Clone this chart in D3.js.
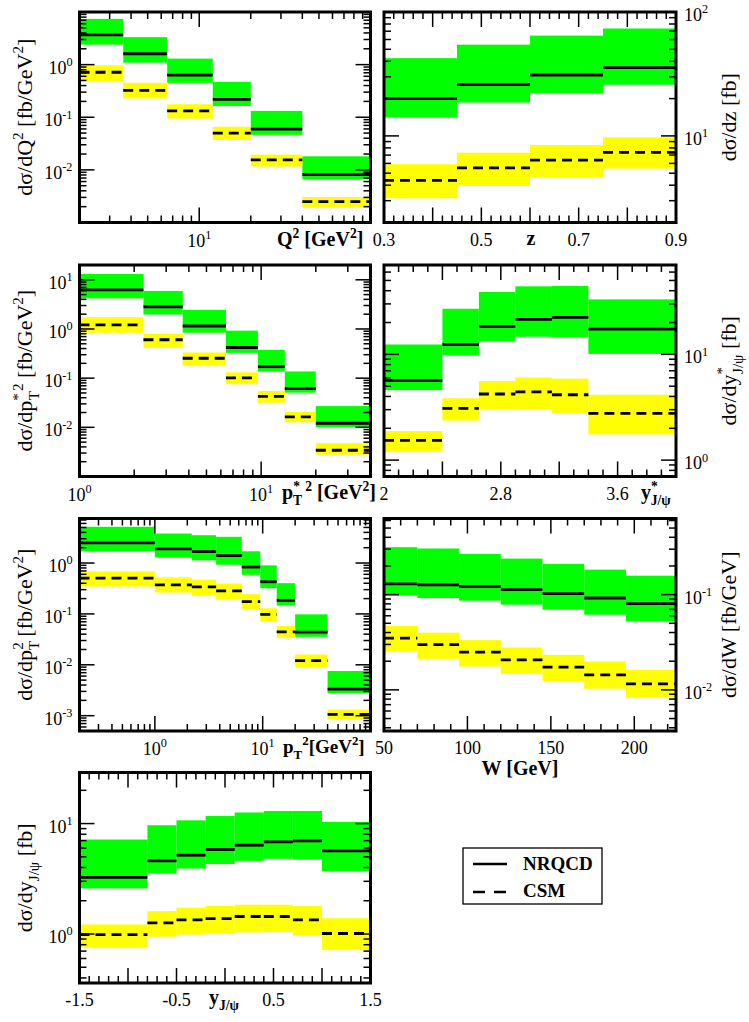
<!DOCTYPE html>
<html>
<head>
<meta charset="utf-8">
<script src="https://cdn.jsdelivr.net/npm/d3@7"></script>
<style>
  body { margin: 0; background: #fff; }
  svg { display: block; }
  text { font-family: "Liberation Serif", "Times New Roman", serif; fill: #000; }
</style>
</head>
<body>
<div id="chart"></div>
<script>
// ---- data (bin edges, NRQCD band / central, CSM band / central) ----

// dsigma/dQ2
const q2Edges = [2, 3.6, 6.5, 12, 20, 40, 100];
const q2NrqcdHi = [7.4, 3.33, 1.30, 0.471, 0.132, 0.0181];
const q2NrqcdLo = [2.4, 1.09, 0.451, 0.164, 0.0464, 0.0066];
const q2Nrqcd = [3.68, 1.61, 0.629, 0.219, 0.0594, 0.00817];
const q2CsmHi = [0.97, 0.451, 0.176, 0.066, 0.0195, 0.00305];
const q2CsmLo = [0.485, 0.228, 0.0944, 0.037, 0.01156, 0.00192];
const q2Csm = [0.717, 0.323, 0.132, 0.050, 0.01545, 0.00249];
const q2XExp = [1];
const q2YExp = [0, -1, -2];

// dsigma/dz
const zEdges = [0.3, 0.45, 0.6, 0.75, 0.9];
const zNrqcdHi = [42.4, 54.5, 64.5, 73.6];
const zNrqcdLo = [14.1, 18.6, 22.1, 25.9];
const zNrqcd = [20.0, 26.0, 31.0, 35.6];
const zCsmHi = [5.91, 7.31, 8.45, 9.75];
const zCsmLo = [3.14, 3.94, 4.66, 5.45];
const zCsm = [4.38, 5.52, 6.37, 7.36];
const zXLabels = ["0.3", "0.5", "0.7", "0.9"];
const zYExp = [1, 2];

// dsigma/dpT*2
const psEdges = [1, 2.25, 3.7, 6.4, 9.6, 13.5, 20, 40];
const psNrqcdHi = [13.1, 5.94, 2.45, 0.925, 0.376, 0.137, 0.027];
const psNrqcdLo = [4.2, 1.97, 0.84, 0.327, 0.135, 0.0507, 0.01];
const psNrqcd = [6.23, 2.83, 1.15, 0.42, 0.171, 0.0613, 0.0121];
const psCsmHi = [1.74, 0.80, 0.332, 0.131, 0.055, 0.0207, 0.00476];
const psCsmLo = [0.84, 0.413, 0.179, 0.0753, 0.0316, 0.0127, 0.00279];
const psCsm = [1.21, 0.604, 0.254, 0.1016, 0.0426, 0.0163, 0.00342];
const psXExp = [0, 1];
const psYExp = [1, 0, -1, -2];

// dsigma/dy*
const ysEdges = [2, 2.4, 2.65, 2.9, 3.15, 3.4, 4];
const ysNrqcdHi = [12.4, 27.0, 38.9, 44.0, 44.4, 33.1];
const ysNrqcdLo = [4.59, 9.8, 13.3, 14.7, 14.5, 10.1];
const ysNrqcd = [5.68, 12.4, 18.4, 21.4, 22.4, 17.3];
const ysCsmHi = [1.88, 3.84, 5.6, 6.05, 5.89, 4.15];
const ysCsmLo = [1.2, 2.37, 2.99, 3.04, 2.8, 1.75];
const ysCsm = [1.535, 3.08, 4.22, 4.41, 4.15, 2.77];
const ysXLabels = ["2", "2.8", "3.6"];
const ysYExp = [1, 0];

// dsigma/dpT2
const ptEdges = [0.2, 1, 2.2, 3.7, 6.4, 9.5, 13.5, 20, 40, 100];
const ptNrqcdHi = [5.15, 3.8, 3.52, 3.27, 1.70, 0.90, 0.402, 0.098, 0.00754];
const ptNrqcdLo = [1.70, 1.29, 1.13, 0.927, 0.588, 0.32, 0.146, 0.0355, 0.00277];
const ptNrqcd = [2.49, 1.89, 1.68, 1.40, 0.834, 0.428, 0.185, 0.0438, 0.00332];
const ptCsmHi = [0.684, 0.521, 0.468, 0.396, 0.244, 0.129, 0.0577, 0.0159, 0.00132];
const ptCsmLo = [0.346, 0.263, 0.23, 0.194, 0.125, 0.0702, 0.0339, 0.00904, 0.000835];
const ptCsm = [0.505, 0.373, 0.34, 0.284, 0.175, 0.098, 0.0445, 0.0121, 0.00106];
const ptXExp = [0, 1];
const ptYExp = [0, -1, -2, -3];

// dsigma/dW
const wEdges = [50, 70, 95, 120, 145, 170, 195, 225];
const wNrqcdHi = [0.315, 0.305, 0.268, 0.239, 0.21, 0.183, 0.158];
const wNrqcdLo = [0.0976, 0.092, 0.0864, 0.0785, 0.0695, 0.0616, 0.0524];
const wNrqcd = [0.13, 0.127, 0.122, 0.113, 0.1025, 0.0922, 0.0804];
const wCsmHi = [0.0468, 0.0398, 0.0333, 0.0279, 0.0233, 0.0199, 0.01626];
const wCsmLo = [0.0253, 0.0212, 0.0176, 0.0147, 0.0122, 0.0103, 0.0083];
const wCsm = [0.035, 0.0298, 0.0249, 0.0207, 0.0173, 0.0144, 0.01156];
const wXLabels = ["50", "100", "150", "200"];
const wYExp = [-1, -2];

// dsigma/dy
const yEdges = [-1.5, -0.8, -0.5, -0.2, 0.1, 0.4, 0.7, 1.0, 1.5];
const yNrqcdHi = [7.17, 9.66, 10.7, 11.7, 12.6, 13.0, 13.0, 10.35];
const yNrqcdLo = [2.59, 3.53, 3.92, 4.3, 4.6, 4.8, 4.73, 3.71];
const yNrqcd = [3.25, 4.6, 5.17, 5.82, 6.37, 6.83, 6.97, 5.66];
const yCsmHi = [1.22, 1.61, 1.73, 1.8, 1.84, 1.84, 1.79, 1.39];
const yCsmLo = [0.753, 0.946, 0.99, 1.01, 1.035, 1.04, 0.966, 0.716];
const yCsm = [0.986, 1.26, 1.34, 1.38, 1.44, 1.44, 1.34, 1.01];
const yXLabels = ["-1.5", "-0.5", "0.5", "1.5"];
const yYExp = [1, 0];

const legendNames = ["NRQCD", "CSM"];

// ---- layout ----
const width = 749, height = 1022;
const colL = [79.5, 370.5], colR = [384, 676];
const rows = [[12, 222.5], [265, 476.5], [518.5, 731], [772.5, 983]];
const green = "#00ff00", yellow = "#ffff00";
const tickFont = 18, titleFont = 22, xTitleFont = 20;

const svg = d3.select("#chart")
  .append("svg")
    .attr("width", width)
    .attr("height", height);

// write text with super/subscripts: segs are strings or {t, s:"sup"|"sub", dx}
function rich(text, segs, size) {
  let cur = 0;
  segs.forEach(s => {
    const seg = typeof s === "string" ? { t: s } : s;
    const shift = seg.s === "sup" ? -0.42 * size : seg.s === "sub" ? 0.3 * size : 0;
    const ts = text.append("tspan")
      .attr("dy", shift - cur)
      .attr("font-size", seg.s ? size * 0.68 : size)
      .text(seg.t);
    if (seg.dx) ts.attr("dx", seg.dx);
    cur = shift;
  });
}

const isPow10 = v => Math.abs(Math.log10(v) - Math.round(Math.log10(v))) < 1e-6;

function drawPanel(p) {
  const g = svg.append("g");
  const [x0, x1] = p.col;
  const [y0, y1] = p.row;
  const x = (p.xLog ? d3.scaleLog() : d3.scaleLinear()).domain(p.xDomain).range([x0, x1]);
  const y = d3.scaleLog().domain(p.yDomain).range([y1, y0]);
  const bins = d3.range(p.edges.length - 1);

  // bands
  const band = (hi, lo, col) => g.append("g").selectAll("rect")
    .data(bins)
    .join("rect")
      .attr("x", i => x(p.edges[i]))
      .attr("width", i => x(p.edges[i + 1]) - x(p.edges[i]))
      .attr("y", i => y(hi[i]))
      .attr("height", i => y(lo[i]) - y(hi[i]))
      .attr("fill", col);
  band(p.nHi, p.nLo, green);
  band(p.cHi, p.cLo, yellow);

  // central lines
  const steps = (vals, dash) => g.append("g").selectAll("line")
    .data(bins)
    .join("line")
      .attr("x1", i => x(p.edges[i]))
      .attr("x2", i => x(p.edges[i + 1]))
      .attr("y1", i => y(vals[i]))
      .attr("y2", i => y(vals[i]))
      .attr("stroke", "#000")
      .attr("stroke-width", 2.8)
      .attr("stroke-dasharray", dash);
  steps(p.n, null);
  steps(p.c, "10,6");

  // ticks
  let xMajor, xMinor;
  if (p.xLog) {
    const all = x.ticks();
    xMajor = all.filter(isPow10);
    xMinor = all.filter(v => !isPow10(v));
  } else {
    const onStep = v => Math.abs(v / p.xStep - Math.round(v / p.xStep)) < 1e-6;
    const all = d3.range(p.xDomain[0], p.xDomain[1] + 1e-9, p.xMinorStep)
      .map(v => Math.round(v * 1e6) / 1e6);
    xMajor = all.filter(onStep);
    xMinor = all.filter(v => !onStep(v));
  }
  const yAll = y.ticks();
  const yMajor = yAll.filter(isPow10), yMinor = yAll.filter(v => !isPow10(v));

  const tk = g.append("g").attr("stroke", "#000").attr("stroke-width", 1.5);
  const xTicks = (vals, len) => {
    tk.append("g").selectAll("line").data(vals).join("line")
      .attr("x1", d => x(d)).attr("x2", d => x(d)).attr("y1", y1).attr("y2", y1 - len);
    tk.append("g").selectAll("line").data(vals).join("line")
      .attr("x1", d => x(d)).attr("x2", d => x(d)).attr("y1", y0).attr("y2", y0 + len);
  };
  const yTicks = (vals, len) => {
    tk.append("g").selectAll("line").data(vals).join("line")
      .attr("y1", d => y(d)).attr("y2", d => y(d)).attr("x1", x0).attr("x2", x0 + len);
    tk.append("g").selectAll("line").data(vals).join("line")
      .attr("y1", d => y(d)).attr("y2", d => y(d)).attr("x1", x1).attr("x2", x1 - len);
  };
  xTicks(xMajor, 15); xTicks(xMinor, 7);
  yTicks(yMajor, 15); yTicks(yMinor, 7);

  // frame
  g.append("rect")
    .attr("x", x0).attr("y", y0)
    .attr("width", x1 - x0).attr("height", y1 - y0)
    .attr("fill", "none").attr("stroke", "#000").attr("stroke-width", 3);

  // x tick labels
  if (p.xLog) {
    p.xExp.forEach(e => {
      const t = g.append("text").attr("x", x(Math.pow(10, e))).attr("y", y1 + 24)
        .attr("text-anchor", "middle");
      rich(t, ["10", { t: String(e), s: "sup" }], tickFont);
    });
  } else {
    p.xLabels.forEach(s => {
      g.append("text").attr("x", x(+s)).attr("y", y1 + 23)
        .attr("text-anchor", "middle").attr("font-size", tickFont).text(s);
    });
  }

  // y tick labels
  p.yExp.forEach(e => {
    const t = g.append("text").attr("y", y(Math.pow(10, e)) + 9);
    if (p.ySide === "left") t.attr("x", x0 - 7).attr("text-anchor", "end");
    else t.attr("x", x1 + 8).attr("text-anchor", "start");
    rich(t, ["10", { t: String(e), s: "sup" }], tickFont);
  });

  // y title
  const ty = g.append("text")
    .attr("transform", `translate(${p.ySide === "left" ? 32 : 736},${(y0 + y1) / 2}) rotate(-90)`)
    .attr("text-anchor", "middle");
  rich(ty, p.yTitle, titleFont);

  // x title
  const tx = g.append("text")
    .attr("x", p.xTitlePos[0]).attr("y", p.xTitlePos[1])
    .attr("font-weight", "bold")
    .attr("text-anchor", p.xTitleAnchor || "start");
  rich(tx, p.xTitle, p.xTitleSize || xTitleFont);
}

const sup = t => ({ t, s: "sup" });
const sub = (t, dx) => ({ t, s: "sub", dx });

const panels = [
  { col: colL, row: rows[0], xLog: true, xDomain: [2, 100], yDomain: [1e-3, 10], ySide: "left",
    edges: q2Edges, nHi: q2NrqcdHi, nLo: q2NrqcdLo, n: q2Nrqcd, cHi: q2CsmHi, cLo: q2CsmLo, c: q2Csm,
    xExp: q2XExp, yExp: q2YExp,
    yTitle: ["dσ/dQ", sup("2"), " [fb/GeV", sup("2"), "]"],
    xTitle: ["Q", sup("2"), " [GeV", sup("2"), "]"], xTitlePos: [277, 246] },
  { col: colR, row: rows[0], xLog: false, xDomain: [0.3, 0.9], xStep: 0.1, xMinorStep: 0.02,
    yDomain: [2, 100], ySide: "right",
    edges: zEdges, nHi: zNrqcdHi, nLo: zNrqcdLo, n: zNrqcd, cHi: zCsmHi, cLo: zCsmLo, c: zCsm,
    xLabels: zXLabels, yExp: zYExp,
    yTitle: ["dσ/dz [fb]"],
    xTitle: ["z"], xTitlePos: [531, 245], xTitleAnchor: "middle" },
  { col: colL, row: rows[1], xLog: true, xDomain: [1, 40], yDomain: [1e-3, 20], ySide: "left",
    edges: psEdges, nHi: psNrqcdHi, nLo: psNrqcdLo, n: psNrqcd, cHi: psCsmHi, cLo: psCsmLo, c: psCsm,
    xExp: psXExp, yExp: psYExp,
    yTitle: ["dσ/dp", sup("*"), sub("T", -7), sup("2"), " [fb/GeV", sup("2"), "]"],
    xTitle: ["p", sup("*"), sub("T", -7), sup(" 2"), " [GeV", sup("2"), "]"], xTitlePos: [282, 499] },
  { col: colR, row: rows[1], xLog: false, xDomain: [2, 4], xStep: 0.4, xMinorStep: 0.1,
    yDomain: [0.7, 70], ySide: "right",
    edges: ysEdges, nHi: ysNrqcdHi, nLo: ysNrqcdLo, n: ysNrqcd, cHi: ysCsmHi, cLo: ysCsmLo, c: ysCsm,
    xLabels: ysXLabels, yExp: ysYExp,
    yTitle: ["dσ/dy", sup("*"), sub("J/ψ", -7), " [fb]"],
    xTitle: ["y", sup("*"), sub("J/ψ", -7)], xTitlePos: [641, 499] },
  { col: colL, row: rows[2], xLog: true, xDomain: [0.2, 100], yDomain: [5e-4, 7.5], ySide: "left",
    edges: ptEdges, nHi: ptNrqcdHi, nLo: ptNrqcdLo, n: ptNrqcd, cHi: ptCsmHi, cLo: ptCsmLo, c: ptCsm,
    xExp: ptXExp, yExp: ptYExp,
    yTitle: ["dσ/dp", sub("T"), { t: "2", s: "sup", dx: -9 }, " [fb/GeV", sup("2"), "]"],
    xTitle: ["p", sub("T"), sup("2"), "[GeV", sup("2"), "]"], xTitlePos: [283, 753], xTitleSize: 19 },
  { col: colR, row: rows[2], xLog: false, xDomain: [50, 225], xStep: 50, xMinorStep: 10,
    yDomain: [0.0037, 0.63], ySide: "right",
    edges: wEdges, nHi: wNrqcdHi, nLo: wNrqcdLo, n: wNrqcd, cHi: wCsmHi, cLo: wCsmLo, c: wCsm,
    xLabels: wXLabels, yExp: wYExp,
    yTitle: ["dσ/dW [fb/GeV]"],
    xTitle: ["W [GeV]"], xTitlePos: [520, 775], xTitleAnchor: "middle" },
  { col: colL, row: rows[3], xLog: false, xDomain: [-1.5, 1.5], xStep: 0.5, xMinorStep: 0.1,
    yDomain: [0.36, 29], ySide: "left",
    edges: yEdges, nHi: yNrqcdHi, nLo: yNrqcdLo, n: yNrqcd, cHi: yCsmHi, cLo: yCsmLo, c: yCsm,
    xLabels: yXLabels, yExp: yYExp,
    yTitle: ["dσ/dy", sub("J/ψ"), " [fb]"],
    xTitle: ["y", sub("J/ψ")], xTitlePos: [209, 1004] }
];

panels.forEach(drawPanel);

// legend
const lg = svg.append("g");
lg.append("rect")
  .attr("x", 463).attr("y", 848).attr("width", 139).attr("height", 56)
  .attr("fill", "none").attr("stroke", "#000").attr("stroke-width", 1.3);
lg.selectAll("line").data(legendNames).join("line")
  .attr("x1", 473).attr("x2", 507)
  .attr("y1", (d, i) => 864 + i * 28).attr("y2", (d, i) => 864 + i * 28)
  .attr("stroke", "#000").attr("stroke-width", 2.6)
  .attr("stroke-dasharray", (d, i) => i ? "12,9" : null);
lg.selectAll("text").data(legendNames).join("text")
  .attr("x", 523).attr("y", (d, i) => 870 + i * 27)
  .attr("font-size", 19).attr("font-weight", "bold")
  .text(d => d);
</script>
</body>
</html>
